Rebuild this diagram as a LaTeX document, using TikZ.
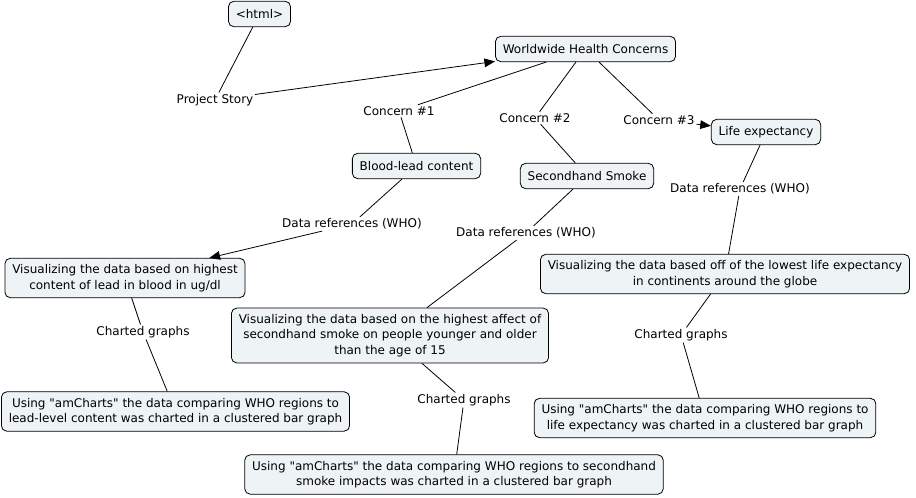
\documentclass[tikz,border=0pt]{standalone}
\usepackage{fontspec}
\setmainfont{DejaVu Sans}
\usepackage{tikz}
\usetikzlibrary{arrows.meta}
\definecolor{cbox}{RGB}{238,243,246}

\begin{document}
\begin{tikzpicture}[x=0.75pt, y=-0.75pt,
    font=\fontsize{9pt}{11.6pt}\selectfont,
    concept/.style={draw, fill=cbox, rounded corners=4pt, align=center,
                    inner xsep=5.5pt, inner ysep=4.6pt, minimum height=19pt},
    link/.style={inner sep=1pt},
    every path/.style={line width=0.6pt},
    tip/.style={-{Triangle[length=8pt,width=6.5pt]}}]
    \useasboundingbox (0, 0) rectangle (916, 498);
    % top
    \node [concept] (html)   at (259.5, 14)  {<html>};
    \node [concept] (world)  at (585.5, 49)  {Worldwide Health Concerns};
    \node [link]    (story)  at (215, 100)   {Project Story};
    % concerns
    \node [link]    (c1)     at (399, 111)   {Concern \#1};
    \node [link]    (c2)     at (535, 118)   {Concern \#2};
    \node [link]    (c3)     at (659, 120)   {Concern \#3};
    \node [concept] (life)   at (766, 132)   {Life expectancy};
    \node [concept] (lead)   at (416.5, 166) {Blood-lead content};
    \node [concept] (smoke)  at (587, 176)   {Secondhand Smoke};
    % data references
    \node [link]    (dl)     at (352, 224)   {Data references (WHO)};
    \node [link]    (dm)     at (526, 233)   {Data references (WHO)};
    \node [link]    (dr)     at (740, 189)   {Data references (WHO)};
    % visualizing
    \node [concept] (vlead)  at (125, 278)   {Visualizing the data based on highest\\content of lead in blood in ug/dl};
    \node [concept] (vlife)  at (725, 274)   {Visualizing the data based off of the lowest life expectancy\\in continents around the globe};
    \node [concept] (vsmoke) at (390, 335.5) {Visualizing the data based on the highest affect of\\secondhand smoke on people younger and older\\than the age of 15};
    % charted graphs
    \node [link]    (gl)     at (143, 332)   {Charted graphs};
    \node [link]    (gr)     at (681, 335)   {Charted graphs};
    \node [link]    (gm)     at (464, 400)   {Charted graphs};
    % using
    \node [concept] (ulead)  at (175.5, 411.5) {Using \textquotedbl amCharts\textquotedbl{} the data comparing WHO regions to\\lead-level content was charted in a clustered bar graph};
    \node [concept] (ulife)  at (705, 418)   {Using \textquotedbl amCharts\textquotedbl{} the data comparing WHO regions to\\life expectancy was charted in a clustered bar graph};
    \node [concept] (usmoke) at (454, 474.5) {Using \textquotedbl amCharts\textquotedbl{} the data comparing WHO regions to secondhand\\smoke impacts was charted in a clustered bar graph};
    % links
    \draw (html) -- (story);
    \draw [tip] (story) -- (world);
    \draw (world) -- (c1);
    \draw (c1) -- (lead);
    \draw (world) -- (c2);
    \draw (c2) -- (smoke);
    \draw (world) -- (c3);
    \draw [tip] (c3) -- (life);
    \draw (lead) -- (dl);
    \draw [tip] (dl) -- (vlead);
    \draw (smoke) -- (dm);
    \draw (dm) -- (vsmoke);
    \draw (life) -- (dr);
    \draw (dr) -- (vlife);
    \draw (vlead) -- (gl);
    \draw (gl) -- (ulead);
    \draw (vsmoke) -- (gm);
    \draw (gm) -- (usmoke);
    \draw (vlife) -- (gr);
    \draw (gr) -- (ulife);
\end{tikzpicture}
\end{document}
